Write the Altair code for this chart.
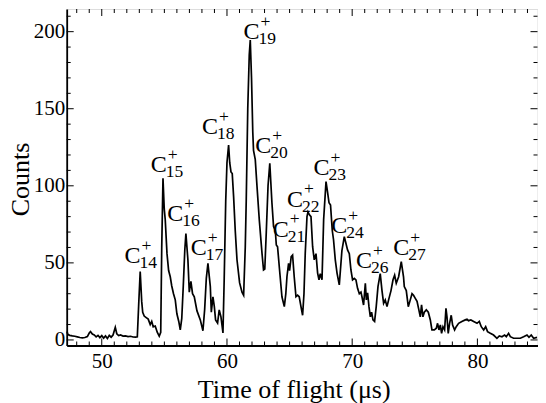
import altair as alt
import pandas as pd

# ---- spectrum ----
time_us = [
    47.22, 47.30, 47.45, 47.65, 47.85, 48.05, 48.25, 48.45, 48.65, 48.85,
    49.00, 49.10, 49.25, 49.40, 49.55, 49.70, 49.85, 50.00, 50.15, 50.30,
    50.45, 50.60, 50.75, 50.90, 51.00, 51.08, 51.20, 51.35, 51.50, 51.70,
    51.90, 52.10, 52.30, 52.50, 52.70, 52.84,
    52.96, 53.07, 53.19, 53.27, 53.39, 53.55, 53.71, 53.87, 53.99, 54.11,
    54.27, 54.43, 54.59, 54.71, 54.79, 54.89, 54.99, 55.07, 55.21, 55.34,
    55.47, 55.59, 55.73, 55.87, 56.00, 56.15, 56.27, 56.39, 56.51, 56.63,
    56.72, 56.88, 56.99, 57.12, 57.25, 57.39, 57.60, 57.87, 58.08, 58.22,
    58.35, 58.48, 58.67, 58.75, 58.88, 58.99, 59.09, 59.25, 59.38, 59.52,
    59.68, 59.78, 59.90, 60.00, 60.13, 60.22, 60.32, 60.42, 60.53, 60.66,
    60.80, 61.01, 61.20, 61.33, 61.46, 61.54, 61.66, 61.78, 61.86, 61.96,
    62.06, 62.12, 62.26, 62.40, 62.58, 62.80, 62.92, 63.02, 63.14, 63.28,
    63.42, 63.59, 63.72, 63.86, 63.94, 64.04, 64.20, 64.39, 64.58, 64.70,
    64.79, 64.92, 65.00, 65.13, 65.24, 65.37, 65.51, 65.64, 65.77, 65.91,
    66.04, 66.15, 66.25, 66.39, 66.47, 66.60, 66.71, 66.84, 66.97, 67.11,
    67.24, 67.35, 67.45, 67.59, 67.72, 67.91, 68.03, 68.15, 68.27, 68.41,
    68.51, 68.65, 68.79, 68.97, 69.18, 69.37, 69.50, 69.63, 69.77, 69.90,
    70.03, 70.17, 70.30, 70.43, 70.57, 70.70, 70.78, 70.91, 71.05, 71.13,
    71.23, 71.34, 71.45, 71.55, 71.66, 71.79, 71.92, 72.06, 72.24, 72.38,
    72.51, 72.64, 72.78, 72.91, 73.10, 73.26, 73.39, 73.52, 73.71, 73.92,
    74.10, 74.16, 74.32, 74.48, 74.64, 74.78, 74.90, 75.04, 75.18, 75.30,
    75.44, 75.54, 75.65, 75.76, 75.92, 76.08, 76.24, 76.37, 76.56, 76.72,
    76.82, 76.93, 77.04, 77.14, 77.25, 77.38, 77.49, 77.57, 77.67, 77.78,
    77.91, 78.02, 78.18, 78.31, 78.50, 78.76, 79.03, 79.17, 79.29, 79.48,
    79.70, 79.97, 80.15, 80.31, 80.50, 80.66, 80.81, 81.03, 81.29, 81.56,
    81.75, 81.96, 82.17, 82.31, 82.49, 82.63, 82.89, 83.16, 83.43, 83.69,
    83.96, 84.12, 84.30, 84.49, 84.76,
]
counts = [
    5.5, 3.5, 3.0, 2.6, 2.4, 2.0, 1.6, 1.4, 1.6, 2.2,
    4.5, 5.4, 3.8, 3.2, 2.0, 3.0, 1.5, 2.8, 1.2, 2.6,
    1.0, 3.0, 1.8, 3.2, 6.0, 8.2, 4.0, 2.8, 3.2, 2.5,
    2.6, 2.2, 2.4, 1.9, 1.8, 2.0,
    25, 44.3, 25, 18, 15.5, 14.5, 13.5, 10, 12, 8.5,
    9, 5, 2.5, 5, 60, 104.9, 85, 78, 56, 45,
    41, 35, 30, 26, 17, 12, 6.5, 14, 35, 58,
    69, 52, 31, 38, 30, 28, 19, 13, 6, 20,
    40, 49.7, 34.6, 18, 28, 21.6, 13, 11, 19.5, 15,
    4.5, 40, 90, 115, 126.5, 115, 109, 108, 93, 71,
    52, 37, 31, 29, 60, 91, 150, 185, 194.6, 170,
    135, 123, 117, 99.5, 78, 56, 45.4, 46, 70, 100,
    114.6, 89, 73.5, 71, 61.6, 60.5, 45.4, 28, 21.6, 30,
    41, 49.7, 45, 54, 55, 41, 28, 29, 28, 21.6,
    16, 30, 56, 80, 83, 81, 80, 60.5, 52, 56,
    43.4, 39, 43, 39, 78, 102.7, 96, 89, 87.6, 71,
    65, 52, 43.4, 35.7, 58, 67, 62.7, 58.4, 56, 45.4,
    39, 40, 39, 33.5, 30, 31, 28, 22.7, 36.8, 26,
    30.5, 21.6, 15, 18, 13, 12, 21.6, 34.6, 43, 32,
    23.8, 26, 21.6, 26, 32, 39, 42, 36.8, 41, 50.8,
    41, 34.6, 32, 21.6, 26, 30, 29, 27, 25, 20.5,
    15, 22.7, 15, 18, 19.5, 18, 13, 6.5, 6.5, 7.6,
    10.8, 6.5, 9.7, 4.3, 8.6, 6.5, 20.5, 15, 4.3, 10.8,
    16, 9.7, 6.5, 8.6, 10.8, 12, 13, 13.4, 12.5, 13,
    12, 10.8, 12, 8.6, 6.5, 8.6, 5.4, 4.3, 3.2, 1.1,
    2.6, 2.1, 3.2, 2.1, 4.3, 2.1, 1.1, 1.1, 1.1, 2.1,
    3.2, 1.7, 3.2, 1.1, 1.7,
]

# ---- peak labels C_n^+ ----
label_n = ["14", "15", "16", "17", "18", "19", "20", "21", "22", "23", "24", "26", "27"]
label_t = [53.02, 55.11, 56.43, 58.31, 59.20, 62.52, 63.46, 64.86, 65.99, 68.11, 69.53, 71.50, 74.48]
label_c = [49.8, 108.7, 76.9, 55.1, 133.6, 195.1, 121.1, 67.1, 86.5, 107.0, 69.2, 46.5, 55.1]

# ---- tick values ----
x_major = [50, 60, 70, 80]
x_minor = [v for v in range(48, 85) if v % 10]
y_major = [0, 50, 100, 150, 200]
y_minor = [v for v in range(10, 211, 10) if v % 50]

W, H = 470.8, 336.5
FONT = "Liberation Serif"

xs = alt.Scale(domain=[47.2, 84.8], nice=False, zero=False)
ys = alt.Scale(domain=[-3.6, 214.7], nice=False, zero=False)

spec_df = pd.DataFrame({"t": time_us, "c": counts})
lab_df = pd.DataFrame({"n": label_n, "t": label_t, "c": label_c})

xaxis = alt.Axis(
    values=x_major, labelFont=FONT, labelFontSize=21, labelColor="black",
    ticks=False, tickSize=0, labelPadding=5, labelFlush=False, labelOverlap=False,
    domainColor="black", domainWidth=1.8, grid=False,
    title="Time of flight (μs)", titleFont=FONT, titleFontSize=26,
    titleFontWeight="normal", titleColor="black", titleX=227, titleY=51.5,
    titleBaseline="alphabetic", titleAlign="center",
)
yaxis = alt.Axis(
    values=y_major, labelFont=FONT, labelFontSize=21, labelColor="black",
    ticks=False, tickSize=0, labelPadding=2, labelFlush=False, labelOverlap=False,
    domainColor="black", domainWidth=1.8, grid=False,
    title="Counts", titleFont=FONT, titleFontSize=26, titleFontWeight="normal",
    titleColor="black", titleAngle=270, titleX=-38, titleY=170,
    titleBaseline="alphabetic", titleAlign="center",
)

line = alt.Chart(spec_df).mark_line(color="black", strokeWidth=1.7).encode(
    x=alt.X("t:Q", scale=xs, axis=xaxis),
    y=alt.Y("c:Q", scale=ys, axis=yaxis),
)

base_lab = alt.Chart(lab_df)
c_txt = base_lab.mark_text(text="C", align="right", baseline="alphabetic",
                           font=FONT, fontSize=24, dx=1, color="black").encode(
    x=alt.X("t:Q", scale=xs), y=alt.Y("c:Q", scale=ys))
sub_txt = base_lab.mark_text(align="left", baseline="alphabetic",
                             font=FONT, fontSize=17.5, dy=5, color="black").encode(
    x=alt.X("t:Q", scale=xs), y=alt.Y("c:Q", scale=ys), text="n:N")
sup_txt = base_lab.mark_text(text="+", align="left", baseline="alphabetic",
                             font=FONT, fontSize=17.5, dx=2, dy=-12.5, color="black").encode(
    x=alt.X("t:Q", scale=xs), y=alt.Y("c:Q", scale=ys))


def xticks(vals, length):
    df = pd.DataFrame({"v": vals})
    b = alt.Chart(df).mark_rule(color="black", strokeWidth=1)
    bottom = b.encode(x=alt.X("v:Q", scale=xs), y=alt.value(H), y2=alt.value(H - length))
    top = b.encode(x=alt.X("v:Q", scale=xs), y=alt.value(0), y2=alt.value(length))
    return [bottom, top]


def yticks(vals, length):
    df = pd.DataFrame({"v": vals})
    b = alt.Chart(df).mark_rule(color="black", strokeWidth=1)
    left = b.encode(y=alt.Y("v:Q", scale=ys), x=alt.value(0), x2=alt.value(length))
    right = b.encode(y=alt.Y("v:Q", scale=ys), x=alt.value(W), x2=alt.value(W - length))
    return [left, right]


layers = (xticks(x_major, 7) + xticks(x_minor, 4) + yticks(y_major, 7) + yticks(y_minor, 4)
          + [line, c_txt, sub_txt, sup_txt])

chart = alt.layer(*layers).properties(
    width=W, height=H,
    autosize=alt.AutoSizeParams(type="none"),
    padding={"left": 58.7, "top": 1, "right": 0.5, "bottom": 57.5},
).configure_view(stroke="black", strokeWidth=1.5).configure(background="white")

chart.save("out.html", embed_options={"renderer": "svg", "actions": False})
